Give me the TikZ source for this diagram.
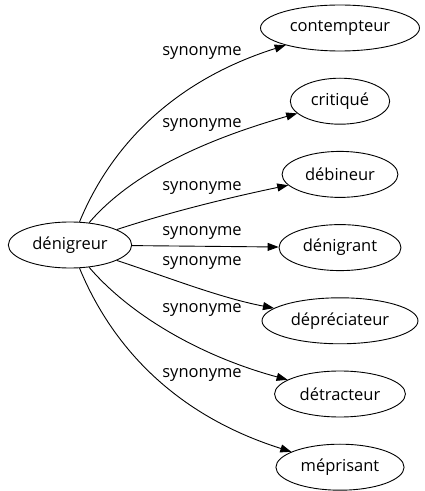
\documentclass[tikz,border=0pt]{standalone}
\usepackage{fontspec}
\setmainfont{Open Sans}
\usepackage{tikz}
\usetikzlibrary{shapes,arrows.meta,positioning}

\begin{document}
\begin{tikzpicture}[x=1pt, y=1pt, node distance=26.3pt,
    word/.style={ellipse, draw, line width=0.9pt, minimum height=46pt, inner xsep=6pt, inner ysep=0pt, font=\fontsize{16.5}{19}\selectfont},
    lbl/.style={font=\fontsize{16.5}{19}\selectfont, inner sep=0pt},
    syn/.style={line width=0.9pt, -{Triangle[length=11pt, width=8pt]}}]
    \useasboundingbox (0,0) rectangle (425,491);

    % Source
    \node[word] (denigreur) at (70,246) {dénigreur};

    % Synonyms
    \node[word] (contempteur) at (340,463) {contempteur};
    \node[word, below=of contempteur] (critique) {critiqué};
    \node[word, below=of critique] (debineur) {débineur};
    \node[word, below=of debineur] (denigrant) {dénigrant};
    \node[word, below=of denigrant] (depreciateur) {dépréciateur};
    \node[word, below=of depreciateur] (detracteur) {détracteur};
    \node[word, below=of detracteur] (meprisant) {méprisant};

    % Labels
    \node[lbl] (l1) at (202,438) {synonyme};
    \node[lbl] (l2) at (202,366) {synonyme};
    \node[lbl] (l3) at (202,303) {synonyme};
    \node[lbl] (l4) at (202,258) {synonyme};
    \node[lbl] (l5) at (202,228) {synonyme};
    \node[lbl] (l6) at (202,181) {synonyme};
    \node[lbl] (l7) at (202,116) {synonyme};

    % Connections
    \draw[syn] (denigreur) .. controls +(35,85) and +(-180,-57) .. (contempteur);
    \draw[syn] (denigreur) .. controls +(60,70) and +(-140,-40) .. (critique);
    \draw[syn] (denigreur) .. controls +(100,33) and +(-110,-23) .. (debineur);
    \draw[syn] (denigreur) -- (denigrant);
    \draw[syn] (denigreur) .. controls +(100,-33) and +(-120,23) .. (depreciateur);
    \draw[syn] (denigreur) .. controls +(60,-70) and +(-140,38) .. (detracteur);
    \draw[syn] (denigreur) .. controls +(35,-85) and +(-180,57) .. (meprisant);

\end{tikzpicture}
\end{document}
